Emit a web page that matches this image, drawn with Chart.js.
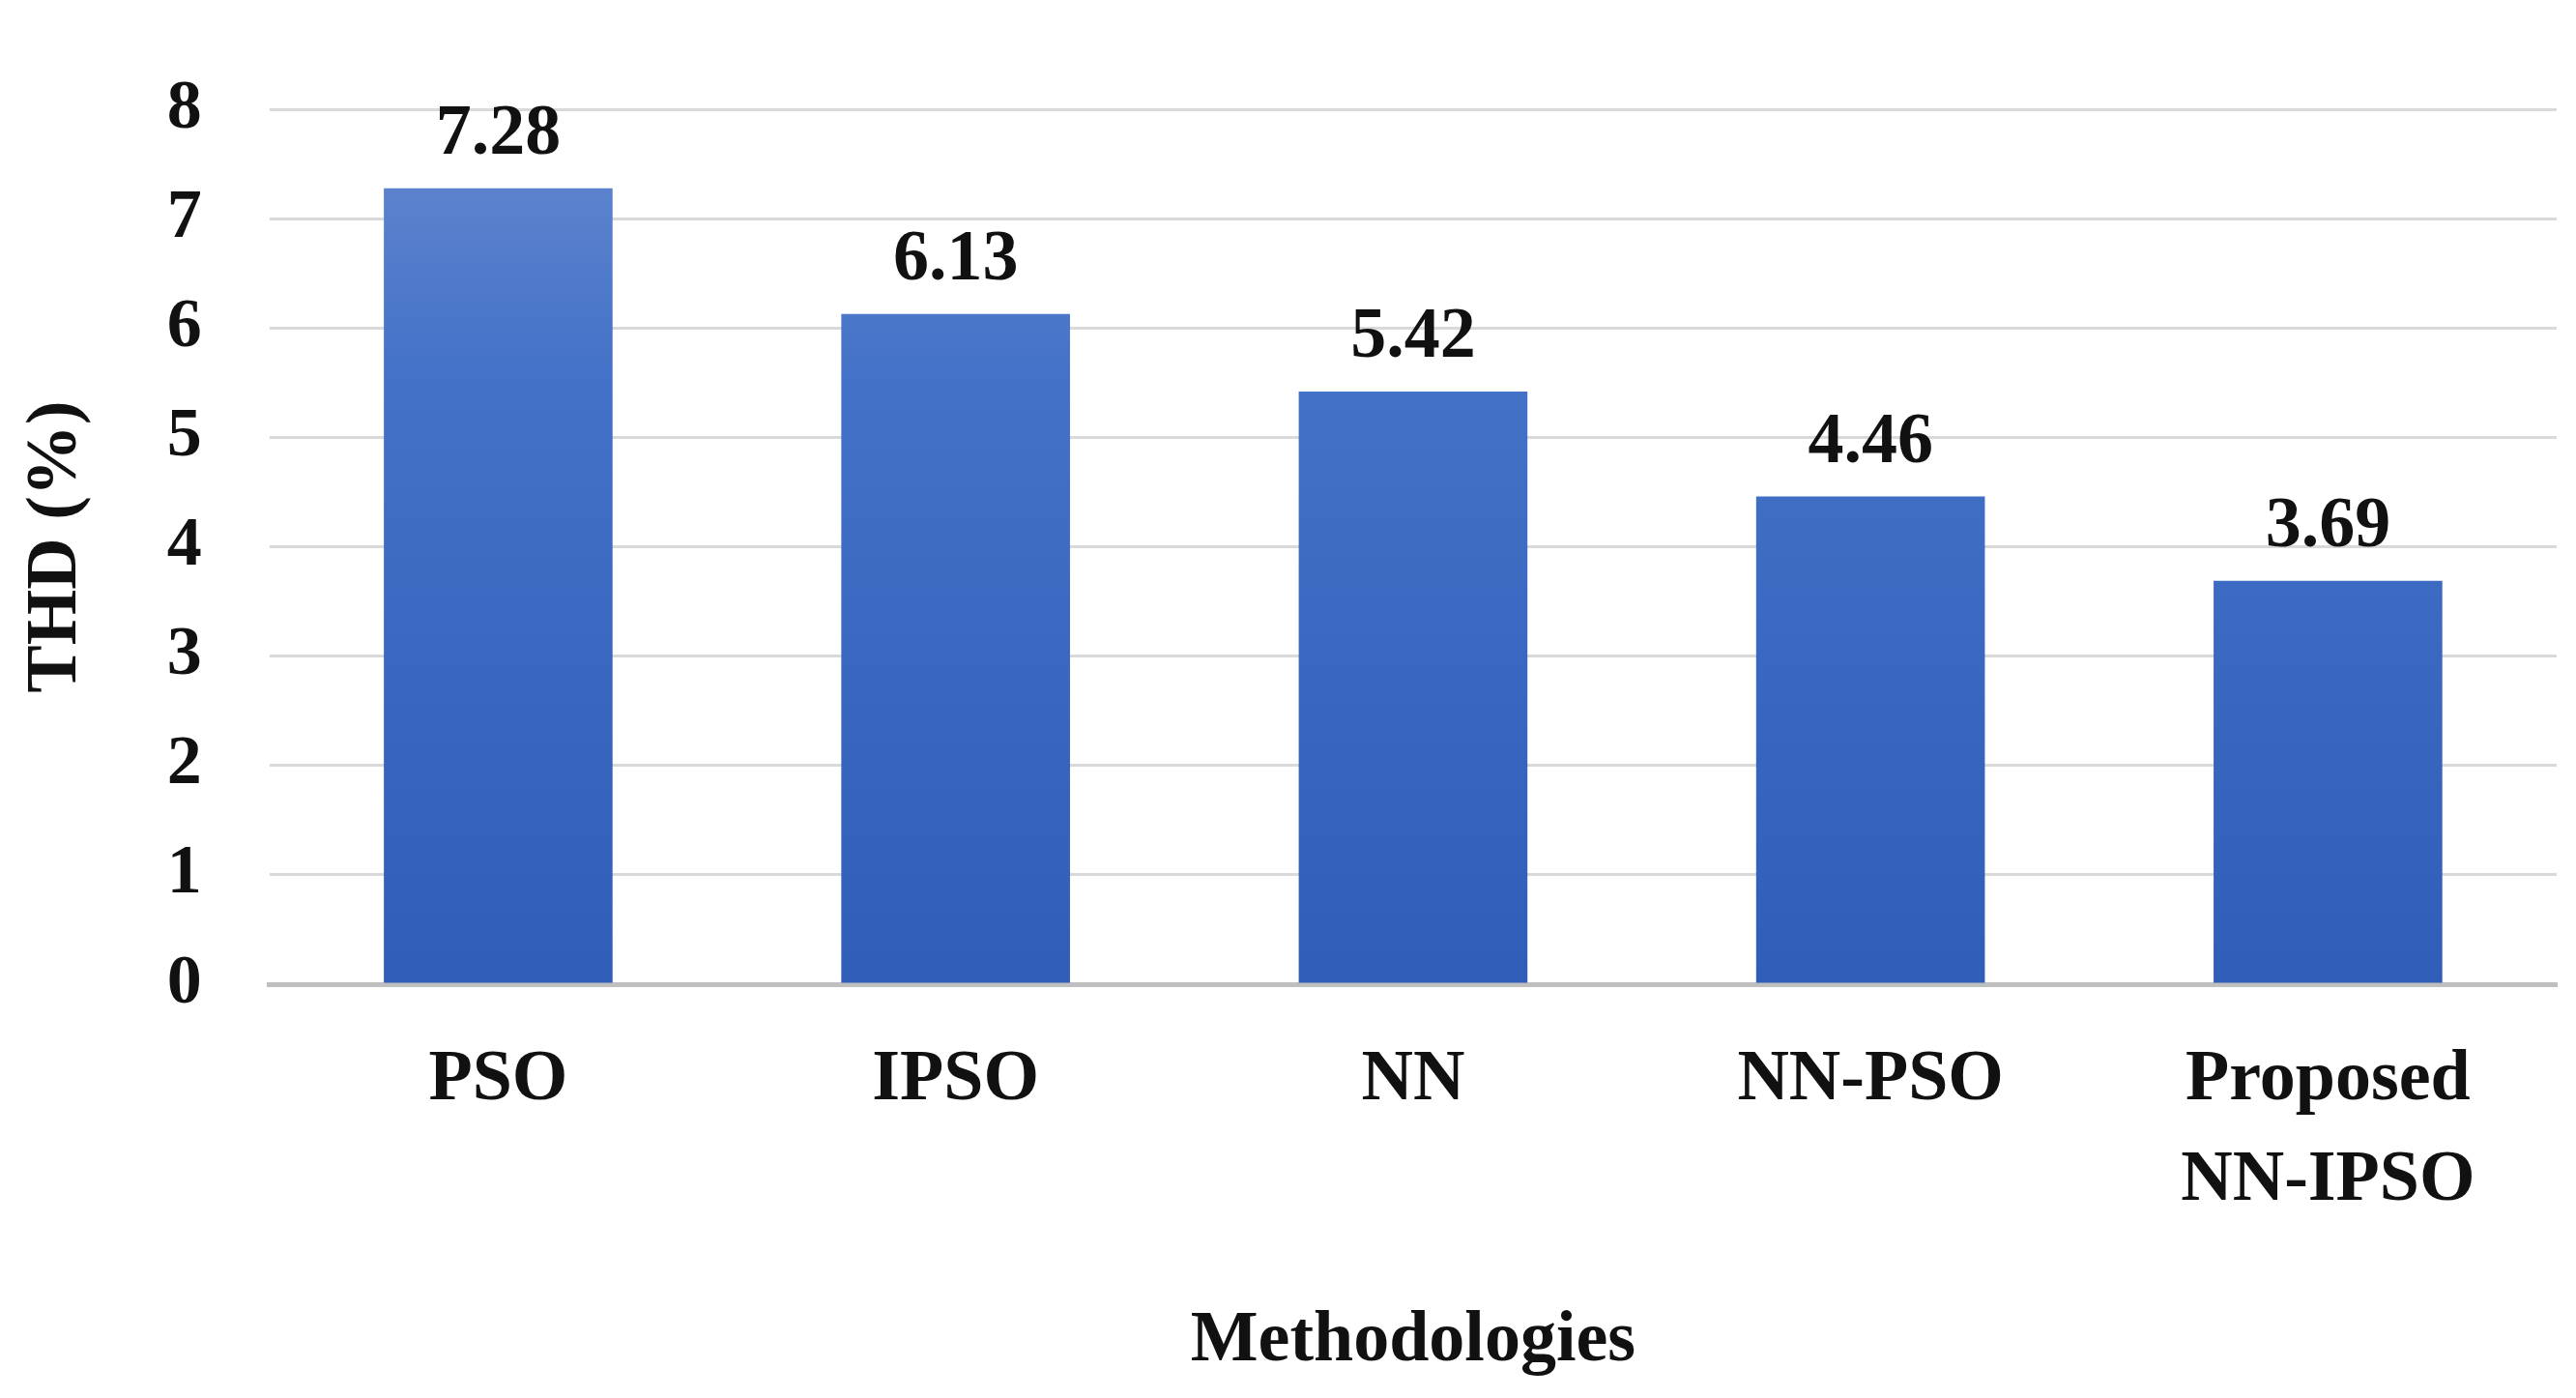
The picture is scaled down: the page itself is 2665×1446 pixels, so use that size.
<!DOCTYPE html>
<html>
<head>
<meta charset="utf-8">
<script src="https://cdn.jsdelivr.net/npm/chart.js@4.4.0/dist/chart.umd.min.js"></script>
<style>
  html, body { margin: 0; padding: 0; background: #fff; }
  #wrap { width: 2665px; height: 1446px; }
</style>
</head>
<body>
<div id="wrap"><canvas id="thdChart"></canvas></div>
<script>
const categories = ['PSO', 'IPSO', 'NN', 'NN-PSO', ['Proposed', 'NN-IPSO']];
const thdValues = [7.28, 6.13, 5.42, 4.46, 3.69];
const yTicks = [0, 1, 2, 3, 4, 5, 6, 7, 8];

const FONT = '"Liberation Serif", "Times New Roman", serif';

const barGradient = (context) => {
  const chart = context.chart;
  const area = chart.chartArea;
  if (!area) return '#4472c4';
  const g = chart.ctx.createLinearGradient(0, area.top, 0, area.bottom);
  g.addColorStop(0, '#6689cf');
  g.addColorStop(0.3, '#4472c8');
  g.addColorStop(1, '#2f5db8');
  return g;
};

const valueLabels = {
  id: 'valueLabels',
  afterDatasetsDraw(chart) {
    const ctx = chart.ctx;
    const meta = chart.getDatasetMeta(0);
    ctx.save();
    ctx.font = 'bold 74px ' + FONT;
    ctx.fillStyle = '#111';
    ctx.textAlign = 'center';
    ctx.textBaseline = 'bottom';
    meta.data.forEach((bar, i) => {
      ctx.fillText(thdValues[i].toFixed(2), bar.x, bar.y - 18);
    });
    ctx.restore();
  }
};

new Chart(document.getElementById('thdChart'), {
  type: 'bar',
  data: {
    labels: categories,
    datasets: [{
      data: thdValues,
      backgroundColor: barGradient,
      categoryPercentage: 1.0,
      barPercentage: 0.5
    }]
  },
  options: {
    responsive: true,
    maintainAspectRatio: false,
    animation: false,
    layout: { padding: { top: 30, right: 20, left: 10, bottom: 10 } },
    plugins: { legend: { display: false }, tooltip: { enabled: false } },
    scales: {
      x: {
        grid: { display: false },
        border: { color: '#bfbfbf', width: 5 },
        ticks: {
          color: '#111',
          font: { family: FONT, size: 74, weight: 'bold', lineHeight: 1.4 },
          padding: 40,
          maxRotation: 0
        },
        title: {
          display: true,
          text: 'Methodologies',
          color: '#111',
          font: { family: FONT, size: 74, weight: 'bold' },
          padding: { top: 30 }
        }
      },
      y: {
        min: 0,
        max: 8,
        afterBuildTicks: (axis) => { axis.ticks = yTicks.map(v => ({ value: v })); },
        grid: { color: '#d9d9d9', lineWidth: 3, drawTicks: false },
        border: { display: false },
        ticks: {
          color: '#111',
          font: { family: FONT, size: 72, weight: 'bold' },
          padding: 70
        },
        title: {
          display: true,
          text: 'THD (%)',
          color: '#111',
          font: { family: FONT, size: 74, weight: 'bold' },
          padding: { bottom: 0 }
        }
      }
    }
  },
  plugins: [valueLabels]
});
</script>
</body>
</html>
